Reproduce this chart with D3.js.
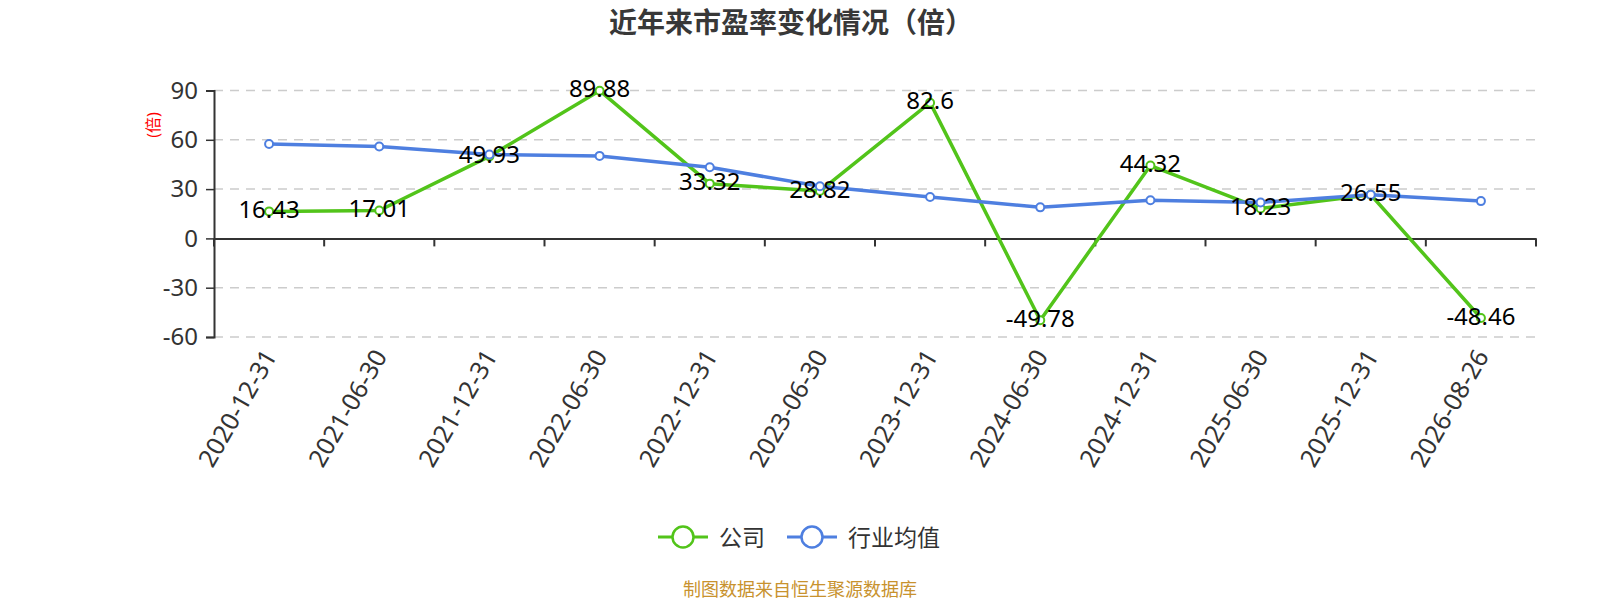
<!DOCTYPE html>
<html>
<head>
<meta charset="utf-8">
<script src="https://cdn.jsdelivr.net/npm/d3@7"></script>
<style>
  body { margin: 0; background: #fff; }
  svg { display: block; font-family: "Noto Sans", "Noto Sans CJK SC", sans-serif; }
</style>
</head>
<body>
<div id="chart"></div>
<script>
// categories (report dates)
const dates = ["2020-12-31", "2021-06-30", "2021-12-31", "2022-06-30", "2022-12-31", "2023-06-30",
  "2023-12-31", "2024-06-30", "2024-12-31", "2025-06-30", "2025-12-31", "2026-08-26"];

// company PE
const company = [16.43, 17.01, 49.93, 89.88, 33.32, 28.82, 82.6, -49.78, 44.32, 18.23, 26.55, -48.46];

// industry average PE
const industry = [57.4, 55.9, 51.0, 50.2, 43.3, 31.7, 25.2, 18.9, 23.2, 21.9, 26.6, 22.7];

const yTicks = [-60, -30, 0, 30, 60, 90];

const width = 1600;
const height = 600;
const marginLeft = 214;
const marginRight = 64;
const marginTop = 90.5;
const plotBottom = 337;

const green = "#52c41a";
const blue = "#4e7fe0";

const svg = d3.select("#chart").append("svg")
  .attr("width", width)
  .attr("height", height);

// scales
const x = d3.scaleBand()
  .domain(dates)
  .range([marginLeft, width - marginRight]);

const y = d3.scaleLinear()
  .domain([-60, 90])
  .range([plotBottom, marginTop]);

const cx = d => x(d) + x.bandwidth() / 2;

// title
svg.append("text")
  .attr("x", 791)
  .attr("y", 22)
  .attr("text-anchor", "middle")
  .attr("dominant-baseline", "central")
  .style("font-size", "28px")
  .style("font-weight", "bold")
  .style("fill", "#383838")
  .text("近年来市盈率变化情况（倍）");

// grid lines
svg.append("g")
  .selectAll("line")
  .data(yTicks.filter(d => d !== 0))
  .join("line")
  .attr("x1", marginLeft)
  .attr("x2", width - marginRight)
  .attr("y1", d => y(d))
  .attr("y2", d => y(d))
  .attr("stroke", "#cccccc")
  .attr("stroke-width", 1.5)
  .attr("stroke-dasharray", "9,7");

// y axis
const yAxis = svg.append("g")
  .attr("transform", `translate(${marginLeft},0)`)
  .call(d3.axisLeft(y).tickValues(yTicks).tickSize(8).tickPadding(8).tickFormat(d => String(d)));
yAxis.select(".domain").attr("stroke", "#333").attr("stroke-width", 2);
yAxis.selectAll(".tick line").attr("stroke", "#333").attr("stroke-width", 1.5);
yAxis.selectAll(".tick text")
  .style("font-size", "24px")
  .style("font-family", "'Noto Sans', sans-serif")
  .style("fill", "#333");

// y axis name
svg.append("text")
  .attr("transform", "translate(153,125) rotate(-90)")
  .attr("text-anchor", "middle")
  .attr("dominant-baseline", "central")
  .style("font-size", "16px")
  .style("fill", "red")
  .text("(倍)");

// x axis at zero
const xAxis = svg.append("g")
  .attr("transform", `translate(0,${y(0)})`)
  .call(d3.axisBottom(x).tickSize(0).tickFormat(""));
xAxis.select(".domain").attr("stroke", "#333").attr("stroke-width", 2);
xAxis.selectAll(".tick").remove();

// ticks on band boundaries
const bounds = d3.range(dates.length + 1).map(i => marginLeft + i * x.step());
xAxis.selectAll(".bound")
  .data(bounds)
  .join("line")
  .attr("class", "bound")
  .attr("x1", d => d)
  .attr("x2", d => d)
  .attr("y1", 0)
  .attr("y2", 8)
  .attr("stroke", "#333")
  .attr("stroke-width", 2);

// x labels, rotated
svg.append("g")
  .selectAll("text")
  .data(dates)
  .join("text")
  .attr("transform", d => `translate(${cx(d)},351) rotate(-60)`)
  .attr("text-anchor", "end")
  .attr("dominant-baseline", "central")
  .style("font-size", "25px")
  .style("fill", "#333")
  .text(d => d);

// lines
const line = d3.line()
  .x((d, i) => cx(dates[i]))
  .y(d => y(d));

function drawSeries(values, color) {
  svg.append("path")
    .datum(values)
    .attr("d", line)
    .attr("fill", "none")
    .attr("stroke", color)
    .attr("stroke-width", 3.5)
    .attr("stroke-linejoin", "round");

  svg.append("g")
    .selectAll("circle")
    .data(values)
    .join("circle")
    .attr("cx", (d, i) => cx(dates[i]))
    .attr("cy", d => y(d))
    .attr("r", 4)
    .attr("fill", "#fff")
    .attr("stroke", color)
    .attr("stroke-width", 2);
}

drawSeries(company, green);
drawSeries(industry, blue);

// company value labels
svg.append("g")
  .selectAll("text")
  .data(company)
  .join("text")
  .attr("x", (d, i) => cx(dates[i]))
  .attr("y", d => y(d) - 3)
  .attr("text-anchor", "middle")
  .attr("dominant-baseline", "central")
  .style("font-size", "24px")
  .style("fill", "#000")
  .text(d => d);

// legend
const legend = [
  { name: "公司", color: green, x0: 658 },
  { name: "行业均值", color: blue, x0: 787 }
];
const lg = svg.append("g").selectAll("g")
  .data(legend)
  .join("g")
  .attr("transform", d => `translate(${d.x0},537)`);
lg.append("line")
  .attr("x1", 0).attr("x2", 50)
  .attr("stroke", d => d.color)
  .attr("stroke-width", 3);
lg.append("circle")
  .attr("cx", 25)
  .attr("r", 10.5)
  .attr("fill", "#fff")
  .attr("stroke", d => d.color)
  .attr("stroke-width", 2.5);
lg.append("text")
  .attr("x", 61)
  .attr("dominant-baseline", "central")
  .style("font-size", "23px")
  .style("fill", "#333")
  .text(d => d.name);

// source
svg.append("text")
  .attr("x", 800)
  .attr("y", 589)
  .attr("text-anchor", "middle")
  .attr("dominant-baseline", "central")
  .style("font-size", "18px")
  .style("fill", "#c8922e")
  .text("制图数据来自恒生聚源数据库");
</script>
</body>
</html>
